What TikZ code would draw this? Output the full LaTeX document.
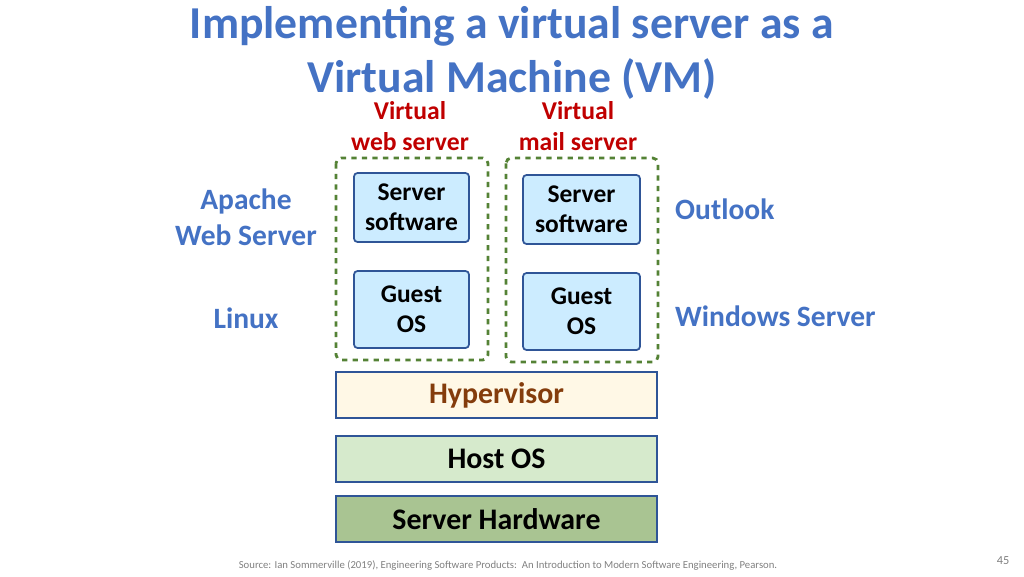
\documentclass[tikz,border=0pt]{standalone}
\usepackage{fontspec}
\setmainfont{Carlito}
\usetikzlibrary{positioning}
\definecolor{titleblue}{RGB}{68,114,196}
\definecolor{vmred}{RGB}{192,0,0}
\definecolor{vmgreen}{RGB}{84,130,53}
\definecolor{boxblue}{RGB}{47,85,151}
\definecolor{lightblue}{RGB}{204,236,255}
\definecolor{hyperfill}{RGB}{255,248,230}
\definecolor{hypertext}{RGB}{132,60,12}
\definecolor{hostfill}{RGB}{214,234,204}
\definecolor{hwfill}{RGB}{169,196,146}
\begin{document}
\begin{tikzpicture}[x=0.02cm,y=-0.02cm,
    vmbox/.style={draw=vmgreen, dashed, line width=1.6pt, rounded corners=3pt},
    swbox/.style={draw=boxblue, fill=lightblue, line width=1pt, rounded corners=2pt, font=\fontsize{14.5}{17}\selectfont\bfseries, align=center},
    layer/.style={draw=boxblue, line width=1pt, font=\fontsize{17}{19}\selectfont\bfseries},
    side/.style={text=titleblue, font=\fontsize{16.8}{20.5}\selectfont\bfseries, align=center}]
    \useasboundingbox (0,0) rectangle (1024,576);
    % Title
    \node[text=titleblue, font=\fontsize{26}{30.5}\selectfont\bfseries, align=center] (title) at (512,53) {Implementing a virtual server as a\\Virtual Machine (VM)};
    % VMs
    \draw[vmbox] (336,158) rectangle (488,360);
    \draw[vmbox] (506,158) rectangle (658,362);
    \node[text=vmred, font=\fontsize{14.6}{17.5}\selectfont\bfseries, align=center] (webvm) at (410,126) {Virtual\\web server};
    \node[text=vmred, font=\fontsize{14.6}{17.5}\selectfont\bfseries, align=center] (mailvm) at (578,126) {Virtual\\mail server};
    \draw[swbox] (354,173) rectangle (469,242) node[midway] (sw1) {Server\\software};
    \draw[swbox] (523,175) rectangle (640,244) node[midway] (sw2) {Server\\software};
    \draw[swbox] (354,271) rectangle (469,348) node[midway] (os1) {Guest\\OS};
    \draw[swbox] (523,273) rectangle (640,350) node[midway] (os2) {Guest\\OS};
    % Layers
    \draw[layer, fill=hyperfill] (336,372) rectangle (657,418) node[midway, text=hypertext] (hyp) {Hypervisor};
    \draw[layer, fill=hostfill] (336,436) rectangle (657,482) node[midway] (host) {Host OS};
    \draw[layer, fill=hwfill] (336,496) rectangle (657,542) node[midway] (hw) {Server Hardware};
    % Side labels
    \node[side] (apache) at (246,217) {Apache\\Web Server};
    \node[side] (linux) at (246,318) {Linux};
    \node[side, anchor=west] (outlook) at (669,209) {Outlook};
    \node[side, anchor=west] (windows) at (669,316) {Windows Server};
    % Footer
    \node[text=gray, font=\fontsize{6.1}{7}\selectfont] (source) at (508,565) {Source: Ian Sommerville (2019), Engineering Software Products:\ \ An Introduction to Modern Software Engineering, Pearson.};
    \node[text=gray, font=\fontsize{7}{8}\selectfont] (page) at (1003,561) {45};
\end{tikzpicture}
\end{document}
